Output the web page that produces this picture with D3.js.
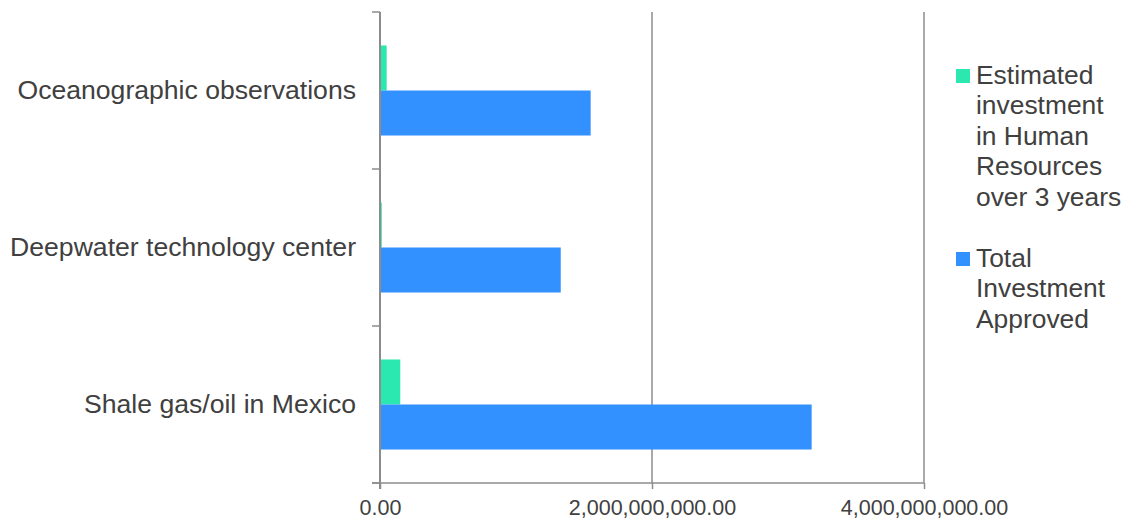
<!DOCTYPE html>
<html>
<head>
<meta charset="utf-8">
<script src="https://cdn.jsdelivr.net/npm/d3@7"></script>
<style>
  html, body { margin: 0; padding: 0; background: #ffffff; }
  svg { display: block; }
  text { font-family: "Liberation Sans", Arial, sans-serif; }
</style>
</head>
<body>
<svg id="chart" width="1128" height="520"></svg>
<script>
const categories = ["Oceanographic observations", "Deepwater technology center", "Shale gas/oil in Mexico"];
const seriesNames = ["Estimated investment in Human Resources over 3 years", "Total Investment Approved"];
const legendLines = [["Estimated", "investment", "in Human", "Resources", "over 3 years"], ["Total", "Investment", "Approved"]];
const humanResources = [49000000, 13000000, 149000000];
const totalInvestment = [1549000000, 1329000000, 3174000000];
const xTicks = [0, 2000000000, 4000000000];
const colors = ["#2ae8b0", "#3391ff"];

const svg = d3.select("#chart");
const plotLeft = 380, plotRight = 924, plotTop = 12, plotBottom = 483;

const x = d3.scaleLinear().domain([0, 4000000000]).range([plotLeft, plotRight]);
const y = d3.scaleBand().domain(categories).range([plotTop, plotBottom]).paddingInner(0).paddingOuter(0);
const y1 = d3.scaleBand().domain(seriesNames).range([0, y.bandwidth()]).paddingInner(0).paddingOuter(0.744);

const axisColor = "#8c8c8c";

// gridlines
svg.append("g").selectAll("line").data(xTicks.slice(1)).join("line")
  .attr("x1", d => x(d)).attr("x2", d => x(d))
  .attr("y1", plotTop).attr("y2", plotBottom)
  .attr("stroke", axisColor).attr("stroke-width", 1.5);

const data = categories.map((c, i) => ({cat: c, vals: [humanResources[i], totalInvestment[i]]}));

const groups = svg.append("g").selectAll("g").data(data).join("g")
  .attr("transform", d => `translate(0,${y(d.cat)})`);
groups.selectAll("rect").data(d => d.vals.map((v, j) => ({v, s: seriesNames[j], j}))).join("rect")
  .attr("x", x(0))
  .attr("y", d => y1(d.s))
  .attr("height", y1.bandwidth())
  .attr("width", d => x(d.v) - x(0))
  .attr("fill", d => colors[d.j]);

// x axis
const fmt = d3.format(",.2f");
const xAxis = d3.axisBottom(x).tickValues(xTicks).tickSize(6).tickSizeOuter(0).tickFormat(d => fmt(d));
const gx = svg.append("g").attr("transform", `translate(0,${plotBottom})`).call(xAxis);
gx.select(".domain").remove();
gx.append("line").attr("x1", 372).attr("x2", plotRight).attr("y1", 0).attr("y2", 0)
  .attr("stroke", axisColor).attr("stroke-width", 1.5);
gx.selectAll(".tick line").attr("stroke", axisColor).attr("stroke-width", 1.5);
gx.selectAll(".tick text").attr("fill", "#404040").attr("font-size", 21.5).attr("dy", 0).attr("y", 31.5)
  .style("font-family", "'Liberation Sans', Arial, sans-serif");

// y axis
const gy = svg.append("g");
gy.append("line").attr("x1", plotLeft).attr("x2", plotLeft).attr("y1", plotTop).attr("y2", plotBottom + 6)
  .attr("stroke", axisColor).attr("stroke-width", 2);
const boundaries = categories.map(c => y(c)).concat([plotBottom]);
gy.selectAll("line.tk").data(boundaries).join("line").attr("class", "tk")
  .attr("x1", 372).attr("x2", plotLeft).attr("y1", d => d).attr("y2", d => d)
  .attr("stroke", axisColor).attr("stroke-width", 1.5);
gy.selectAll("text").data(categories).join("text")
  .attr("x", 356).attr("y", d => y(d) + y.bandwidth() / 2 - 1)
  .attr("text-anchor", "end").attr("dominant-baseline", "central")
  .attr("fill", "#404040").attr("font-size", 26.6)
  .text(d => d);

// legend
const legendY = [65, 248];
const lg = svg.append("g");
seriesNames.forEach((s, i) => {
  lg.append("rect").attr("x", 956).attr("y", legendY[i] + 4).attr("width", 14).attr("height", 14).attr("fill", colors[i]);
  legendLines[i].forEach((ln, k) => {
    lg.append("text").attr("x", 976).attr("y", legendY[i] + 18.5 + k * 30.6)
      .attr("fill", "#404040").attr("font-size", 26.4).text(ln);
  });
});
</script>
</body>
</html>
